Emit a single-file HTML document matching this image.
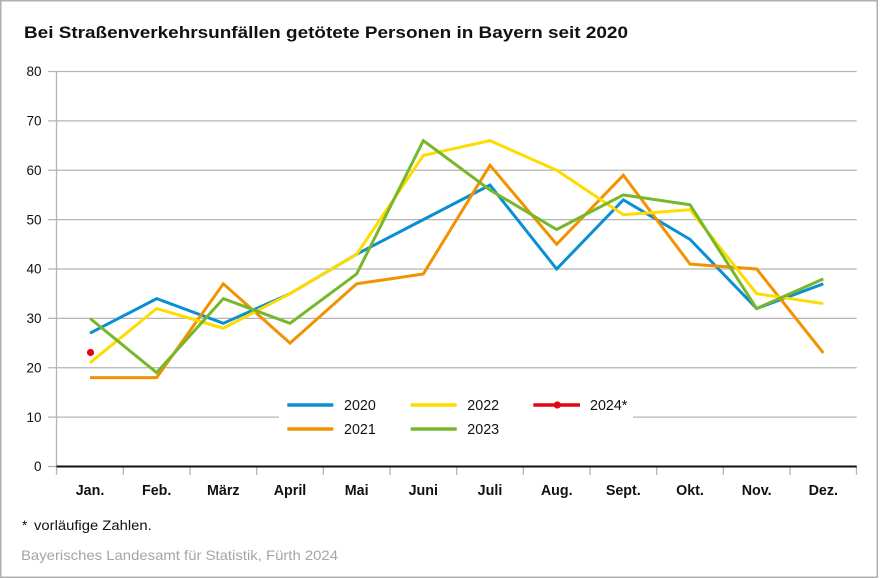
<!DOCTYPE html>
<html>
<head>
<meta charset="utf-8">
<style>
html,body{margin:0;padding:0;background:#fff;}
svg{display:block;}
text{font-family:"Liberation Sans",Arial,sans-serif;}
</style>
</head>
<body>
<svg width="880" height="579" viewBox="0 0 880 579" xmlns="http://www.w3.org/2000/svg">
<rect x="0" y="0" width="880" height="579" fill="#fff"/>
<rect x="0.75" y="0.75" width="876.5" height="576.5" fill="none" stroke="#b0b0b0" stroke-width="1.5"/>

<text x="24" y="38" font-size="17" font-weight="bold" fill="#111" textLength="604" lengthAdjust="spacingAndGlyphs">Bei Straßenverkehrsunfällen getötete Personen in Bayern seit 2020</text>

<!-- gridlines -->
<g stroke="#b4b4b4" stroke-width="1.3">
<line x1="48" y1="71.5" x2="856.7" y2="71.5"/>
<line x1="48" y1="120.9" x2="856.7" y2="120.9"/>
<line x1="48" y1="170.25" x2="856.7" y2="170.25"/>
<line x1="48" y1="219.6" x2="856.7" y2="219.6"/>
<line x1="48" y1="269" x2="856.7" y2="269"/>
<line x1="48" y1="318.4" x2="856.7" y2="318.4"/>
<line x1="48" y1="367.75" x2="856.7" y2="367.75"/>
<line x1="48" y1="417.1" x2="856.7" y2="417.1"/>
<line x1="48" y1="466.5" x2="56.7" y2="466.5"/>
<line x1="56.5" y1="71.5" x2="56.5" y2="475"/>
<line x1="123.3" y1="466" x2="123.3" y2="475"/>
<line x1="190" y1="466" x2="190" y2="475"/>
<line x1="256.7" y1="466" x2="256.7" y2="475"/>
<line x1="323.3" y1="466" x2="323.3" y2="475"/>
<line x1="390" y1="466" x2="390" y2="475"/>
<line x1="456.7" y1="466" x2="456.7" y2="475"/>
<line x1="523.3" y1="466" x2="523.3" y2="475"/>
<line x1="590" y1="466" x2="590" y2="475"/>
<line x1="656.7" y1="466" x2="656.7" y2="475"/>
<line x1="723.3" y1="466" x2="723.3" y2="475"/>
<line x1="790" y1="466" x2="790" y2="475"/>
<line x1="856.5" y1="466" x2="856.5" y2="475"/>
</g>
<line x1="56.5" y1="466.5" x2="856.7" y2="466.5" stroke="#111" stroke-width="2"/>

<!-- y labels -->
<g font-size="13.5" fill="#111" text-anchor="end">
<text x="41.5" y="76.2">80</text>
<text x="41.5" y="125.6">70</text>
<text x="41.5" y="175">60</text>
<text x="41.5" y="224.3">50</text>
<text x="41.5" y="273.7">40</text>
<text x="41.5" y="323.1">30</text>
<text x="41.5" y="372.5">20</text>
<text x="41.5" y="421.8">10</text>
<text x="41.5" y="471.2">0</text>
</g>

<!-- x labels -->
<g font-size="14.3" font-weight="bold" fill="#111" text-anchor="middle">
<text x="90" y="495">Jan.</text>
<text x="156.7" y="495">Feb.</text>
<text x="223.3" y="495">März</text>
<text x="290" y="495">April</text>
<text x="356.7" y="495">Mai</text>
<text x="423.3" y="495">Juni</text>
<text x="490" y="495">Juli</text>
<text x="556.7" y="495">Aug.</text>
<text x="623.3" y="495">Sept.</text>
<text x="690" y="495">Okt.</text>
<text x="756.7" y="495">Nov.</text>
<text x="823.3" y="495">Dez.</text>
</g>

<!-- series -->
<g fill="none" stroke-width="3" stroke-linejoin="miter">
<polyline stroke="#0a8fd2" points="90,333.19 156.67,298.63 223.33,323.31 290,293.69 356.67,254.19 423.33,219.63 490,185.06 556.67,269 623.33,199.88 690,239.38 756.67,308.5 823.33,283.81"/>
<polyline stroke="#f39200" points="90,377.63 156.67,377.63 223.33,283.81 290,343.06 356.67,283.81 423.33,273.94 490,165.31 556.67,244.31 623.33,175.19 690,264.06 756.67,269 823.33,352.94"/>
<polyline stroke="#ffdc00" points="90,362.81 156.67,308.5 223.33,328.25 290,293.69 356.67,254.19 423.33,155.44 490,140.63 556.67,170.25 623.33,214.69 690,209.75 756.67,293.69 823.33,303.56"/>
<polyline stroke="#76b82a" points="90,318.38 156.67,372.69 223.33,298.63 290,323.31 356.67,273.94 423.33,140.63 490,190 556.67,229.5 623.33,194.94 690,204.81 756.67,308.5 823.33,278.88"/>
</g>
<circle cx="90.5" cy="352.5" r="3.6" fill="#e30613"/>

<!-- legend -->
<rect x="279" y="394" width="354" height="46" fill="#fff"/>
<g stroke-width="3.5">
<line x1="287.3" y1="405" x2="333.3" y2="405" stroke="#0a8fd2"/>
<line x1="287.3" y1="429" x2="333.3" y2="429" stroke="#f39200"/>
<line x1="410.7" y1="405" x2="456.7" y2="405" stroke="#ffdc00"/>
<line x1="410.7" y1="429" x2="456.7" y2="429" stroke="#76b82a"/>
<line x1="533.3" y1="405" x2="580" y2="405" stroke="#e30613"/>
</g>
<circle cx="557.3" cy="405" r="3.6" fill="#e30613"/>
<g font-size="14.3" fill="#111">
<text x="344" y="410">2020</text>
<text x="344" y="434">2021</text>
<text x="467.3" y="410">2022</text>
<text x="467.3" y="434">2023</text>
<text x="590" y="410">2024*</text>
</g>

<!-- footnotes -->
<text x="22" y="530" font-size="13.5" fill="#111">*</text>
<text x="34" y="530" font-size="13.5" fill="#111" textLength="117.7" lengthAdjust="spacingAndGlyphs">vorläufige Zahlen.</text>
<text x="21" y="560" font-size="14" fill="#a5a5a5" textLength="317" lengthAdjust="spacingAndGlyphs">Bayerisches Landesamt für Statistik, Fürth 2024</text>
</svg>
</body>
</html>
